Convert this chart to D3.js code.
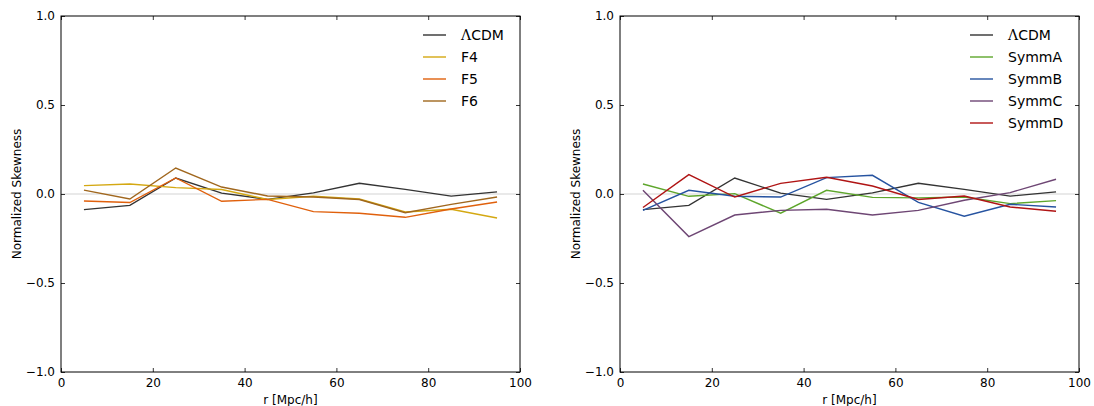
<!DOCTYPE html>
<html><head><meta charset="utf-8">
<script src="https://cdn.jsdelivr.net/npm/d3@7"></script>
<style>
body{margin:0;background:#fff;}
svg{display:block;}
text{font-family:"DejaVu Sans",sans-serif;fill:#000;}
</style></head><body>
<svg id="c" width="1094" height="406"></svg>
<script>
const rValues = [5, 15, 25, 35, 45, 55, 65, 75, 85, 95];
const xTicks = [0, 20, 40, 60, 80, 100];
const yTicks = [-1.0, -0.5, 0.0, 0.5, 1.0];

const lcdm  = [-0.088, -0.064, 0.090, 0.005, -0.030, 0.006, 0.060, 0.026, -0.012, 0.012];
const f4    = [0.047, 0.056, 0.036, 0.025, -0.031, -0.013, -0.028, -0.101, -0.086, -0.135];
const f5    = [-0.039, -0.048, 0.090, -0.041, -0.030, -0.099, -0.108, -0.131, -0.084, -0.045];
const f6    = [0.022, -0.028, 0.146, 0.039, -0.011, -0.017, -0.031, -0.105, -0.058, -0.017];
const symmA = [0.056, -0.013, 0.002, -0.108, 0.021, -0.019, -0.022, -0.017, -0.054, -0.037];
const symmB = [-0.092, 0.021, -0.013, -0.017, 0.092, 0.105, -0.047, -0.125, -0.058, -0.073];
const symmC = [0.021, -0.239, -0.118, -0.092, -0.086, -0.118, -0.092, -0.035, 0.008, 0.083];
const symmD = [-0.076, 0.109, -0.017, 0.060, 0.094, 0.045, -0.031, -0.011, -0.073, -0.097];

const leftSeries = [
  {name: "\u039BCDM", values: lcdm, color: "#333333"},
  {name: "F4", values: f4, color: "#d4a812"},
  {name: "F5", values: f5, color: "#e0600c"},
  {name: "F6", values: f6, color: "#a0671e"}
];
const rightSeries = [
  {name: "\u039BCDM", values: lcdm, color: "#333333"},
  {name: "SymmA", values: symmA, color: "#5ea62c"},
  {name: "SymmB", values: symmB, color: "#2653a0"},
  {name: "SymmC", values: symmC, color: "#6e4674"},
  {name: "SymmD", values: symmD, color: "#b01414"}
];

const svg = d3.select("#c");
const plotTop = 16, plotBottom = 372;

function panel(x0, x1, series, legendX) {
  const x = d3.scaleLinear().domain([0, 100]).range([x0, x1]);
  const y = d3.scaleLinear().domain([-1, 1]).range([plotBottom, plotTop]);
  const g = svg.append("g");

  g.append("line").attr("x1", x0).attr("x2", x1)
    .attr("y1", y(0)).attr("y2", y(0))
    .attr("stroke", "#d3d3d3").attr("stroke-width", 1);

  const line = d3.line().x((d, i) => x(rValues[i])).y(d => y(d));
  series.forEach(s => {
    g.append("path").datum(s.values).attr("d", line)
      .attr("fill", "none").attr("stroke", s.color).attr("stroke-width", 1.4);
  });

  const ax = g.append("g").attr("transform", `translate(0,${plotBottom})`)
    .call(d3.axisBottom(x).tickValues(xTicks).tickFormat(d3.format("d")).tickSizeInner(-4).tickSizeOuter(0).tickPadding(6));
  const axT = g.append("g").attr("transform", `translate(0,${plotTop})`)
    .call(d3.axisTop(x).tickValues(xTicks).tickFormat("").tickSizeInner(-4).tickSizeOuter(0));
  const ay = g.append("g").attr("transform", `translate(${x0},0)`)
    .call(d3.axisLeft(y).tickValues(yTicks).tickFormat(d => d3.format(".1f")(d).replace("-", "\u2212")).tickSizeInner(-4).tickSizeOuter(0).tickPadding(6));
  const ayR = g.append("g").attr("transform", `translate(${x1},0)`)
    .call(d3.axisRight(y).tickValues(yTicks).tickFormat("").tickSizeInner(-4).tickSizeOuter(0));
  [ax, axT, ay, ayR].forEach(a => {
    a.select(".domain").remove();
    a.selectAll(".tick line").attr("stroke", "#000").attr("stroke-width", 0.8);
    a.selectAll("text").style("font-size", "12px").style("font-family", "DejaVu Sans").attr("fill", "#000");
  });

  g.append("rect").attr("x", x0).attr("y", plotTop).attr("width", x1 - x0).attr("height", plotBottom - plotTop)
    .attr("fill", "none").attr("stroke", "#000").attr("stroke-width", 1);

  g.append("text").attr("x", (x0 + x1) / 2).attr("y", 404).attr("text-anchor", "middle")
    .style("font-size", "12px").text("r [Mpc/h]");
  g.append("text").attr("transform", `translate(${x0 - 40},${(plotTop + plotBottom) / 2}) rotate(-90)`)
    .attr("text-anchor", "middle").style("font-size", "12px").text("Normalized Skewness");

  series.forEach((s, i) => {
    const ly = 35 + i * 22;
    g.append("line").attr("x1", legendX).attr("x2", legendX + 23).attr("y1", ly).attr("y2", ly)
      .attr("stroke", s.color).attr("stroke-width", 1.4);
    const t = g.append("text").attr("x", legendX + 38).attr("y", ly + 5).style("font-size", "14px");
    if (s.name.startsWith("\u039B")) {
      t.append("tspan").style("font-family", "DejaVu Serif").text("\u039B");
      t.append("tspan").text(s.name.slice(1));
    } else {
      t.text(s.name);
    }
  });
}

panel(61, 520, leftSeries, 423);
panel(620, 1079, rightSeries, 970);
</script>
</body></html>
